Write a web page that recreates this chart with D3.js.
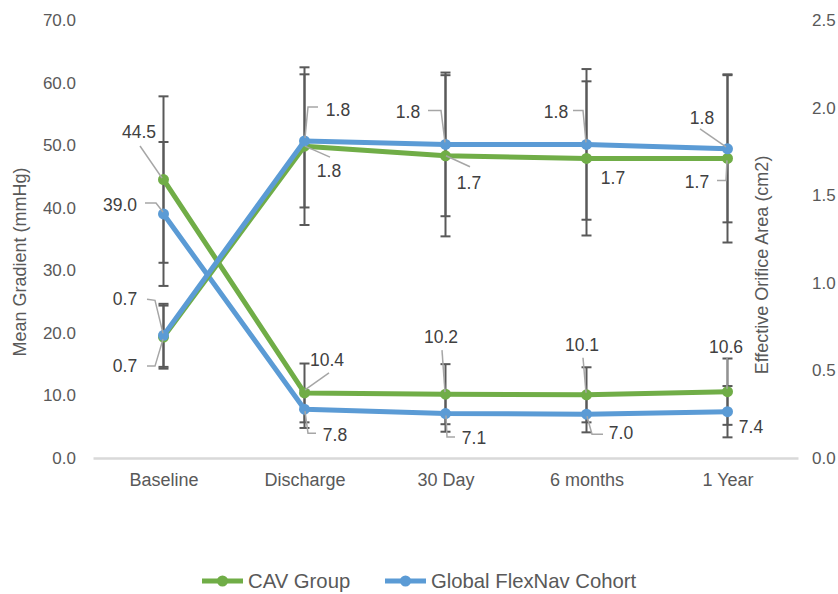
<!DOCTYPE html>
<html><head><meta charset="utf-8">
<script src="https://cdn.jsdelivr.net/npm/d3@7"></script>
<style>
html,body{margin:0;padding:0;background:#fff;}
text{font-family:"Liberation Sans",Arial,sans-serif;}
</style></head>
<body><svg id="chart" width="838" height="594"></svg>
<script>
// ---- data ----
const categories = ["Baseline","Discharge","30 Day","6 months","1 Year"];
const seriesNames = ["CAV Group","Global FlexNav Cohort"];
const cavGradient = [44.5, 10.4, 10.2, 10.1, 10.6];
const cavGradientSD = [13.3, 4.7, 4.8, 4.4, 5.3];
const globalGradient = [39.0, 7.8, 7.1, 7.0, 7.4];
const globalGradientSD = [11.5, 3.0, 2.9, 2.9, 4.1];
const cavEOA = [0.69, 1.78, 1.725, 1.71, 1.71];
const cavEOASD = [0.18, 0.45, 0.46, 0.44, 0.48];
const globalEOA = [0.70, 1.81, 1.79, 1.79, 1.765];
const globalEOASD = [0.18, 0.38, 0.41, 0.43, 0.42];
const leftTicks = [0,10,20,30,40,50,60,70];
const rightTicks = [0,0.5,1.0,1.5,2.0,2.5];

// ---- layout ----
const green = "#70AD47", blue = "#5B9BD5";
const svg = d3.select("#chart");
const plot = {left:93, right:798, top:20, bottom:458};
const x = d3.scalePoint().domain(categories).range([plot.left, plot.right]).padding(0.5);
const yL = d3.scaleLinear().domain([0,70]).range([plot.bottom, plot.top]);
const yR = d3.scaleLinear().domain([0,2.5]).range([plot.bottom, plot.top]);

// label placement (offsets relative to point, pixels) and leader paths
const labelLayout = {
  cavG: [
    {t:[-24.5,-47.6], l:[[-23.5,-33.6],[-1.5,-1.6]]},
    {t:[22.5,-33], l:[[24.5,-20],[0.5,-3]]},
    {t:[-4.5,-57], l:[[-3.5,-44],[-0.5,-2]]},
    {t:[-4.5,-50], l:[[-3.5,-37],[-0.5,-2]]},
    {t:[-1.5,-45], l:[[-0.5,-34],[-0.5,-3]]}
  ],
  gloG: [
    {t:[-43.5,-9], l:[[-18.5,-11],[-7.5,-11],[-0.5,-2]]},
    {t:[30.5,26], l:[[11.5,24],[3.5,24],[0.5,2]]},
    {t:[28.5,24.4], l:[[9.5,23.4],[1.5,23.4],[0.5,2]]},
    {t:[34.5,19], l:[[16.5,20],[5.5,20],[0.5,2]]},
    {t:[23.5,15.3], l:null}
  ],
  cavE: [
    {t:[-38.5,29], l:[[-16.5,29],[-8.5,29],[-0.5,2]]},
    {t:[24.5,25], l:[[25.5,11],[0.5,0]]},
    {t:[23.5,27], l:[[24.5,11],[0.5,0]]},
    {t:[26.5,20], l:null},
    {t:[-30.5,24], l:[[-10.5,22],[-1.5,22],[-0.5,2]]}
  ],
  gloE: [
    {t:[-38.5,-36], l:[[-16.5,-36],[-8.5,-35],[-0.5,-2]]},
    {t:[33.5,-31], l:[[13.5,-34],[3.5,-34],[0.5,-3]]},
    {t:[-37.5,-32], l:[[-17.5,-34],[-4.5,-34],[-0.5,-2]]},
    {t:[-30.5,-32], l:[[-13.5,-34],[-3.5,-34],[-0.5,-2]]},
    {t:[-25.5,-31], l:[[-27.5,-20],[-1.5,-2]]}
  ]
};

const series = [
  {key:"cavG", vals:cavGradient, sd:cavGradientSD, y:yL, color:green},
  {key:"gloG", vals:globalGradient, sd:globalGradientSD, y:yL, color:blue},
  {key:"cavE", vals:cavEOA, sd:cavEOASD, y:yR, color:green},
  {key:"gloE", vals:globalEOA, sd:globalEOASD, y:yR, color:blue}
];

// ---- axes ----
const axL = svg.append("g").attr("transform",`translate(${plot.left-17},0)`)
  .call(d3.axisLeft(yL).tickValues(leftTicks).tickFormat(d3.format(".1f")).tickSize(0).tickPadding(0));
axL.select(".domain").remove();
axL.selectAll("text").attr("fill","#595959").style("font-size","17px").style("font-family","Liberation Sans, Arial, sans-serif");

const axR = svg.append("g").attr("transform",`translate(${plot.right+14},0)`)
  .call(d3.axisRight(yR).tickValues(rightTicks).tickFormat(d3.format(".1f")).tickSize(0).tickPadding(0));
axR.select(".domain").remove();
axR.selectAll("text").attr("fill","#595959").style("font-size","17px").style("font-family","Liberation Sans, Arial, sans-serif");

const axB = svg.append("g").attr("transform",`translate(0,${plot.bottom})`)
  .call(d3.axisBottom(x).tickSize(0).tickPadding(15));
axB.select(".domain").attr("stroke","#d9d9d9").attr("stroke-width",2.5);
axB.selectAll("text").attr("fill","#595959").style("font-size","18px").style("font-family","Liberation Sans, Arial, sans-serif");

svg.append("text").attr("transform","translate(26,262) rotate(-90)")
  .attr("text-anchor","middle").attr("fill","#595959").style("font-size","18px")
  .text("Mean Gradient (mmHg)");
svg.append("text").attr("transform","translate(768,265) rotate(-90)")
  .attr("text-anchor","middle").attr("fill","#595959").style("font-size","18px")
  .text("Effective Orifice Area (cm2)");

// ---- error bars ----
const eb = svg.append("g").attr("stroke","#595959").attr("stroke-width",2).attr("fill","none");
series.forEach(s=>{
  s.vals.forEach((v,i)=>{
    const cx = x(categories[i]);
    const y0 = s.y(v - s.sd[i]), y1 = s.y(v + s.sd[i]);
    eb.append("line").attr("x1",cx).attr("x2",cx).attr("y1",y0).attr("y2",y1);
    eb.append("line").attr("x1",cx-5).attr("x2",cx+5).attr("y1",y0).attr("y2",y0);
    eb.append("line").attr("x1",cx-5).attr("x2",cx+5).attr("y1",y1).attr("y2",y1);
  });
});

// ---- lines & markers ----
series.forEach(s=>{
  const line = d3.line().x((d,i)=>x(categories[i])).y(d=>s.y(d));
  svg.append("path").datum(s.vals).attr("d",line).attr("fill","none")
    .attr("stroke",s.color).attr("stroke-width",5).attr("stroke-linejoin","round");
  svg.append("g").selectAll("circle").data(s.vals).join("circle")
    .attr("cx",(d,i)=>x(categories[i])).attr("cy",d=>s.y(d)).attr("r",5.5).attr("fill",s.color);
});

// ---- data labels ----
const lg = svg.append("g");
series.forEach(s=>{
  s.vals.forEach((v,i)=>{
    const px = x(categories[i]), py = s.y(v);
    const lay = labelLayout[s.key][i];
    if (lay.l) {
      lg.append("path").attr("d", d3.line()(lay.l.map(p=>[px+p[0], py+p[1]])))
        .attr("fill","none").attr("stroke","#a6a6a6").attr("stroke-width",1.5);
    }
    lg.append("text").attr("x",px+lay.t[0]).attr("y",py+lay.t[1])
      .attr("text-anchor","middle").attr("dominant-baseline","central")
      .attr("fill","#404040").style("font-size","17.5px")
      .text(d3.format(".1f")(v));
  });
});

// ---- legend ----
const legendItems = [
  {name:seriesNames[0], color:green, x:202},
  {name:seriesNames[1], color:blue, x:385}
];
const leg = svg.append("g").attr("transform","translate(0,581)");
legendItems.forEach(it=>{
  leg.append("line").attr("x1",it.x).attr("x2",it.x+41).attr("y1",0).attr("y2",0)
    .attr("stroke",it.color).attr("stroke-width",5);
  leg.append("circle").attr("cx",it.x+20.5).attr("cy",0).attr("r",5.5).attr("fill",it.color);
  leg.append("text").attr("x",it.x+46).attr("y",0).attr("dominant-baseline","central")
    .attr("fill","#595959").style("font-size","20.3px").text(it.name);
});
</script></body></html>
